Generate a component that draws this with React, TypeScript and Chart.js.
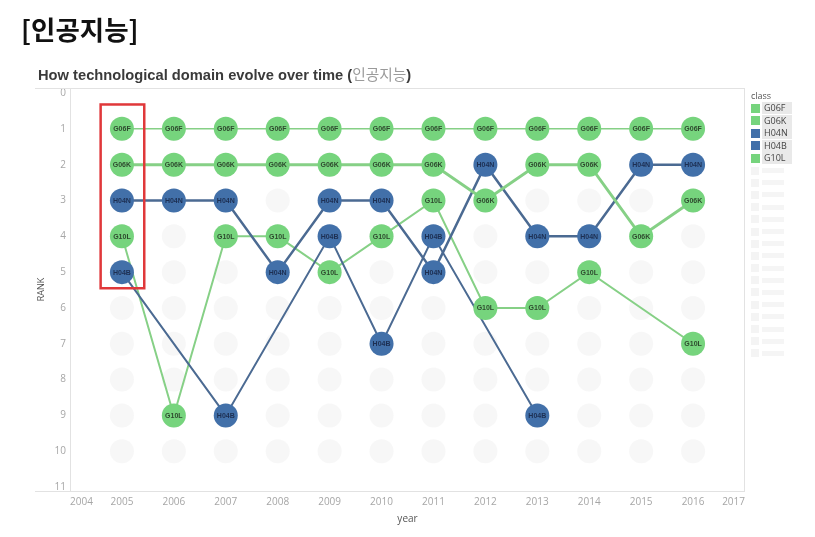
import React, { useEffect, useRef } from "react";
import { Chart, registerables } from "chart.js";

Chart.register(...registerables);

const years = [2005, 2006, 2007, 2008, 2009, 2010, 2011, 2012, 2013, 2014, 2015, 2016];
const xTickYears = [2004, 2005, 2006, 2007, 2008, 2009, 2010, 2011, 2012, 2013, 2014, 2015, 2016, 2017];
const rankTicks = [0, 1, 2, 3, 4, 5, 6, 7, 8, 9, 10, 11];
const ghostRanks = [1, 2, 3, 4, 5, 6, 7, 8, 9, 10];

const classes = ["G06F", "G06K", "H04N", "H04B", "G10L"];
const rankG06F = [1, 1, 1, 1, 1, 1, 1, 1, 1, 1, 1, 1];
const rankG06K = [2, 2, 2, 2, 2, 2, 2, 3, 2, 2, 4, 3];
const rankH04N = [3, 3, 3, 5, 3, 3, 5, 2, 4, 4, 2, 2];
const rankH04B = [5, null, 9, null, 4, 7, 4, null, 9, null, null, null];
const rankG10L = [4, 9, 4, 4, 5, 4, 3, 6, 6, 5, null, 7];

const GREEN = "#76d47d";
const BLUE = "#4270a9";
const GREEN_LINE = "#86d086";
const BLUE_LINE = "#4b6a92";

const seriesRanks = [rankG06F, rankG06K, rankH04N, rankH04B, rankG10L];
const seriesFill = [GREEN, GREEN, BLUE, BLUE, GREEN];
const seriesLine = [GREEN_LINE, GREEN_LINE, BLUE_LINE, BLUE_LINE, GREEN_LINE];
const seriesWidth = [1.5, 3, 2.5, 2, 2];

const highlightYear = 2005;

function toPoints(ranks: (number | null)[]) {
  const pts: { x: number; y: number }[] = [];
  ranks.forEach((r, i) => {
    if (r !== null) pts.push({ x: years[i], y: r });
  });
  return pts;
}

const decoPlugin = {
  id: "deco",
  beforeDatasetsDraw(chart: any) {
    const { ctx, chartArea } = chart;
    ctx.save();
    ctx.strokeStyle = "#e2e2e2";
    ctx.lineWidth = 1;
    ctx.beginPath();
    ctx.moveTo(35, chartArea.top + 0.5);
    ctx.lineTo(chartArea.right, chartArea.top + 0.5);
    ctx.moveTo(chartArea.right - 0.5, chartArea.top);
    ctx.lineTo(chartArea.right - 0.5, chartArea.bottom);
    ctx.moveTo(35, chartArea.bottom + 0.5);
    ctx.lineTo(chartArea.right, chartArea.bottom + 0.5);
    ctx.stroke();
    ctx.restore();
  },
  afterDatasetsDraw(chart: any) {
    const { ctx } = chart;
    ctx.save();
    ctx.textAlign = "center";
    ctx.textBaseline = "middle";
    ctx.font = "bold 7px 'Liberation Sans', Arial, sans-serif";
    chart.data.datasets.forEach((ds: any, di: number) => {
      if (!ds.isLabelSet) return;
      const meta = chart.getDatasetMeta(di);
      ctx.fillStyle = ds.textColor;
      meta.data.forEach((el: any) => {
        ctx.fillText(ds.label, el.x, el.y + 0.5);
      });
    });
    const xs = chart.scales.x;
    const ys = chart.scales.y;
    const x0 = xs.getPixelForValue(highlightYear - 0.41);
    const x1 = xs.getPixelForValue(highlightYear + 0.43);
    const y0 = ys.getPixelForValue(0.32);
    const y1 = ys.getPixelForValue(5.45);
    ctx.strokeStyle = "#e0383a";
    ctx.lineWidth = 2.5;
    ctx.strokeRect(x0, y0, x1 - x0, y1 - y0);
    ctx.restore();
  },
};

export default function App() {
  const ref = useRef<HTMLCanvasElement | null>(null);

  useEffect(() => {
    document.body.style.margin = "0";
    const ghost: { x: number; y: number }[] = [];
    years.forEach((y) => ghostRanks.forEach((r) => ghost.push({ x: y, y: r })));

    const datasets: any[] = [];
    classes.forEach((c, i) => {
      datasets.push({
        label: c + "_line",
        data: toPoints(seriesRanks[i]),
        showLine: true,
        borderColor: seriesLine[i],
        borderWidth: seriesWidth[i],
        pointRadius: 0,
        pointHoverRadius: 0,
        order: 5,
      });
    });
    classes.forEach((c, i) => {
      datasets.push({
        label: c,
        data: toPoints(seriesRanks[i]),
        showLine: false,
        backgroundColor: seriesFill[i],
        borderColor: seriesFill[i],
        borderWidth: 0,
        pointRadius: 12,
        pointHoverRadius: 12,
        isLabelSet: true,
        textColor: seriesFill[i] === BLUE ? "#1d2f52" : "#2e4a2e",
        order: 1,
      });
    });
    datasets.push({
      label: "ghost",
      data: ghost,
      showLine: false,
      backgroundColor: "rgba(228,228,228,0.3)",
      borderWidth: 0,
      pointRadius: 12,
      order: 10,
    });

    const chart = new Chart(ref.current as HTMLCanvasElement, {
      type: "scatter",
      data: { datasets },
      options: {
        animation: false,
        responsive: false,
        devicePixelRatio: 1,
        layout: { padding: { top: 88, right: 70, left: 0, bottom: 0 } },
        plugins: { legend: { display: false }, tooltip: { enabled: false } },
        scales: {
          x: {
            type: "linear",
            min: 2004,
            max: 2017,
            afterBuildTicks: (s: any) => {
              s.ticks = xTickYears.map((v) => ({ value: v }));
            },
            afterFit: (s: any) => {
              s.height = 46;
            },
            grid: { display: false, drawTicks: false },
            border: { display: false },
            ticks: {
              align: "inner",
              color: "#a6a6a6",
              font: { size: 10, family: "'Open Sans', sans-serif" },
              padding: 5,
              maxRotation: 0,
              autoSkip: false,
              callback: (v: any) => String(v),
            },
            title: {
              display: true,
              text: "year",
              color: "#555",
              font: { size: 10, family: "'Open Sans', sans-serif" },
              padding: { top: 2, bottom: 12 },
            },
          },
          y: {
            type: "linear",
            reverse: true,
            min: -0.14,
            max: 11.11,
            afterBuildTicks: (s: any) => {
              s.ticks = rankTicks.map((v) => ({ value: v }));
            },
            afterFit: (s: any) => {
              s.width = 70;
            },
            grid: { display: false, drawTicks: false },
            border: { display: true, color: "#e2e2e2" },
            ticks: {
              color: "#a6a6a6",
              font: { size: 10, family: "'Open Sans', sans-serif" },
              padding: 4,
              autoSkip: false,
              callback: (v: any) => String(v),
            },
            title: {
              display: true,
              text: "RANK",
              color: "#555",
              font: { size: 9, family: "'Open Sans', sans-serif" },
              padding: { top: 36, bottom: 0 },
            },
          },
        },
      },
      plugins: [decoPlugin],
    } as any);
    return () => chart.destroy();
  }, []);

  const fadedItems = Array.from({ length: 16 });

  return (
    <div style={{ position: "relative", width: 815, height: 537, background: "#fff", overflow: "hidden" }}>
      <canvas ref={ref} width={815} height={537} style={{ position: "absolute", left: 0, top: 0, width: 815, height: 537 }} />
      <div
        style={{
          position: "absolute",
          left: 21,
          top: 11,
          fontFamily: "'Noto Sans CJK KR', sans-serif",
          fontWeight: 700,
          fontSize: 26.5,
          lineHeight: "36px",
          color: "#111",
        }}
      >
        [인공지능]
      </div>
      <div
        style={{
          position: "absolute",
          left: 38,
          top: 65,
          fontFamily: "'Liberation Sans', Arial, sans-serif",
          fontWeight: 700,
          fontSize: 14.7,
          lineHeight: "18px",
          color: "#3a3a3a",
          whiteSpace: "nowrap",
        }}
      >
        How technological domain evolve over time (
        <span style={{ fontFamily: "'Noto Sans CJK KR', sans-serif", fontWeight: 400, color: "#9a9a9a" }}>인공지능</span>)
      </div>
      <div style={{ position: "absolute", left: 751, top: 90, fontFamily: "'Open Sans', sans-serif" }}>
        <div style={{ fontSize: 9, color: "#555", lineHeight: "12px" }}>class</div>
        {classes.map((c, i) => (
          <div key={c} style={{ display: "flex", alignItems: "center", height: 12.5 }}>
            <div style={{ width: 9, height: 9, background: seriesFill[i], marginRight: 2 }} />
            <div style={{ fontSize: 9, color: "#444", background: "#e9e9e9", padding: "0 2px", lineHeight: "12px", width: 26 }}>{c}</div>
          </div>
        ))}
        {fadedItems.map((_, i) => (
          <div key={i} style={{ display: "flex", alignItems: "center", height: 12.2 }}>
            <div style={{ width: 8, height: 8, background: "#f4f4f4", marginRight: 3 }} />
            <div style={{ width: 22, height: 5, background: "#f5f5f5" }} />
          </div>
        ))}
      </div>
    </div>
  );
}
